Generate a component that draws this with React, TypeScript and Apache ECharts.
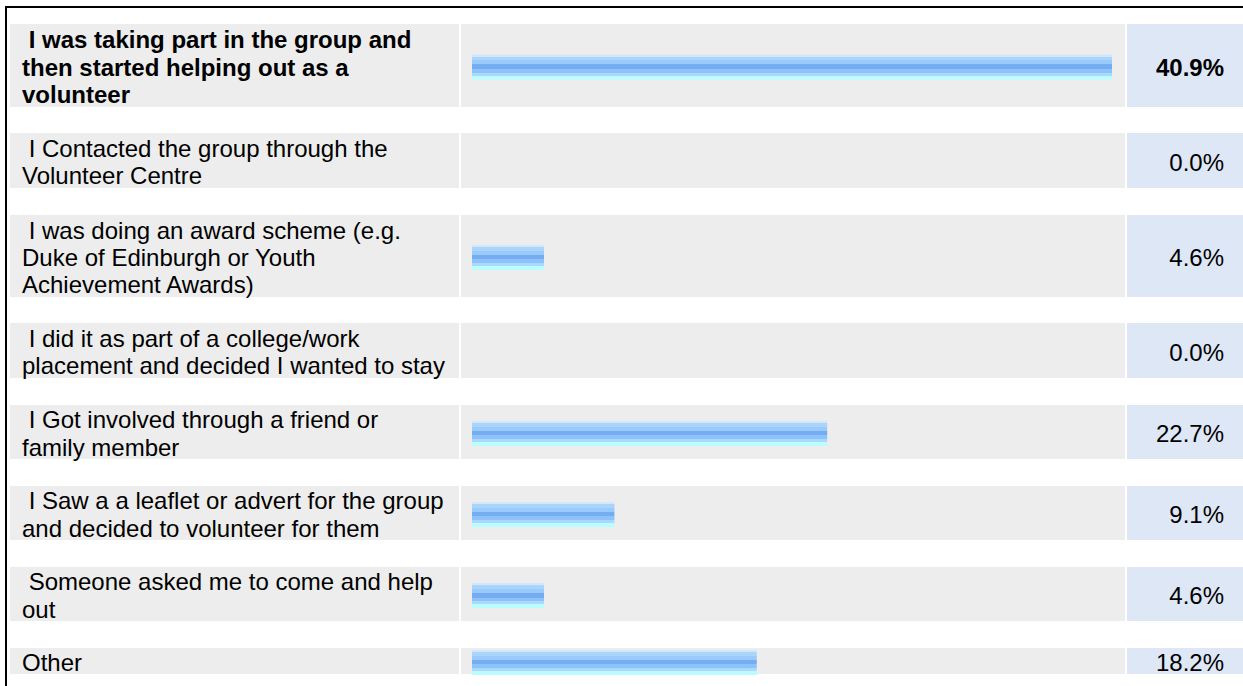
import React, { useEffect, useRef } from "react";
import * as echarts from "echarts";

const NB = "\u00a0";
const categories = [
  NB + "I was taking part in the group and\nthen started helping out as a\nvolunteer",
  NB + "I Contacted the group through the\nVolunteer Centre",
  NB + "I was doing an award scheme (e.g.\nDuke of Edinburgh or Youth\nAchievement Awards)",
  NB + "I did it as part of a college/work\nplacement and decided I wanted to stay",
  NB + "I Got involved through a friend or\nfamily member",
  NB + "I Saw a a leaflet or advert for the group\nand decided to volunteer for them",
  NB + "Someone asked me to come and help\nout",
  "Other",
];
const values = [40.9, 0.0, 4.6, 0.0, 22.7, 9.1, 4.6, 18.2];
const pctLabels = values.map((v) => v.toFixed(1) + "%");

// layout (pixel positions of the table rows)
const rowTops = [24, 133, 215, 323, 405, 486, 567, 648];
const rowBottoms = [107, 188, 297, 378, 459, 540, 621, 674];

const FONT = "'Liberation Sans', Arial, Helvetica, sans-serif";
const GRAY = "#ededed";
const BLUE = "#dde7f5";

export default function App() {
  const ref = useRef<HTMLDivElement>(null);
  useEffect(() => {
    if (!ref.current) return;
    const chart = echarts.init(ref.current, null, { renderer: "svg" });
    const barGradient = new echarts.graphic.LinearGradient(0, 0, 0, 1, [
      { offset: 0, color: "#d3e7f9" },
      { offset: 0.09, color: "#d3e7f9" },
      { offset: 0.09, color: "#a9d5fd" },
      { offset: 0.23, color: "#a9d5fd" },
      { offset: 0.23, color: "#99cafb" },
      { offset: 0.39, color: "#99cafb" },
      { offset: 0.39, color: "#74adf1" },
      { offset: 0.58, color: "#74adf1" },
      { offset: 0.58, color: "#8dc3f9" },
      { offset: 0.73, color: "#8dc3f9" },
      { offset: 0.73, color: "#abd9fd" },
      { offset: 0.85, color: "#abd9fd" },
      { offset: 0.85, color: "#b9fdff" },
      { offset: 1, color: "#b9fdff" },
    ]);

    const gridLeft = 472;
    const gridWidth = 640;
    const grids: any[] = [];
    const xAxes: any[] = [];
    const yAxes: any[] = [];
    const series: any[] = [];
    const graphics: any[] = [];

    categories.forEach((cat, i) => {
      const top = rowTops[i];
      const h = rowBottoms[i] - rowTops[i];
      grids.push({
        left: gridLeft,
        width: gridWidth,
        top: top + 1.5,
        height: h,
        outerBoundsMode: "none",
        containLabel: false,
      });
      xAxes.push({
        type: "value",
        gridIndex: i,
        min: 0,
        max: values[0],
        show: false,
      });
      const bold = i === 0 ? "bold" : "normal";
      yAxes.push({
        type: "category",
        gridIndex: i,
        data: [cat],
        position: "left",
        z: 10,
        axisLine: { show: false },
        axisTick: { show: false },
        splitLine: { show: false },
        axisLabel: {
          align: "left",
          margin: gridLeft - 22,
          fontSize: 24,
          lineHeight: 27.3,
          color: "#000",
          fontFamily: FONT,
          fontWeight: bold,
        },
      });
      yAxes.push({
        type: "category",
        gridIndex: i,
        data: [pctLabels[i]],
        position: "right",
        z: 10,
        axisLine: { show: false },
        axisTick: { show: false },
        splitLine: { show: false },
        axisLabel: {
          align: "right",
          margin: 1224 - (gridLeft + gridWidth),
          fontSize: 24,
          color: "#000",
          fontFamily: FONT,
          fontWeight: bold,
        },
      });
      series.push({
        type: "bar",
        xAxisIndex: i,
        yAxisIndex: i * 2,
        data: [values[i]],
        barWidth: 25,
        z: 5,
        itemStyle: { color: barGradient },
      });
      graphics.push(
        { type: "rect", z: 0, shape: { x: 10, y: top, width: 449, height: h }, style: { fill: GRAY } },
        { type: "rect", z: 0, shape: { x: 461, y: top, width: 664, height: h }, style: { fill: GRAY } },
        { type: "rect", z: 0, shape: { x: 1127, y: top, width: 116, height: h }, style: { fill: BLUE } }
      );
    });

    graphics.push(
      { type: "rect", z: 1, shape: { x: 5, y: 6, width: 1238, height: 2 }, style: { fill: "#000" } },
      { type: "rect", z: 1, shape: { x: 5, y: 6, width: 2, height: 680 }, style: { fill: "#000" } }
    );

    chart.setOption({
      animation: false,
      backgroundColor: "#ffffff",
      grid: grids,
      xAxis: xAxes,
      yAxis: yAxes,
      series,
      graphic: { elements: graphics },
    });
    return () => chart.dispose();
  }, []);
  return (
    <div
      ref={ref}
      style={{ position: "fixed", left: 0, top: 0, width: 1243, height: 686 }}
    />
  );
}
